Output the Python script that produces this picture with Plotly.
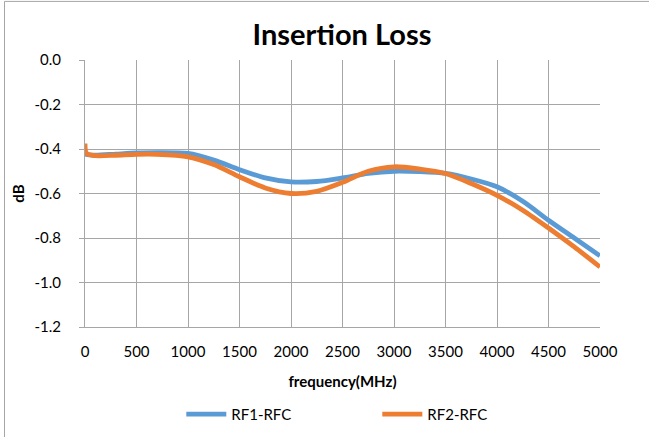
import plotly.graph_objects as go

freq = [0, 15, 100, 300, 500, 700, 1000, 1250, 1500, 1750, 2000, 2250, 2500, 2750, 3000, 3250, 3500, 3750, 4000, 4250, 4500, 4750, 5000]
rf1 = [-0.42, -0.425, -0.428, -0.423, -0.418, -0.416, -0.42, -0.45, -0.493, -0.53, -0.548, -0.546, -0.53, -0.51, -0.50, -0.502, -0.51, -0.535, -0.57, -0.635, -0.72, -0.80, -0.88]
rf2 = [-0.375, -0.42, -0.43, -0.428, -0.424, -0.424, -0.435, -0.47, -0.525, -0.575, -0.60, -0.59, -0.55, -0.50, -0.48, -0.49, -0.51, -0.555, -0.608, -0.675, -0.755, -0.84, -0.93]

x_ticks = [0, 500, 1000, 1500, 2000, 2500, 3000, 3500, 4000, 4500, 5000]
y_ticks = [0.0, -0.2, -0.4, -0.6, -0.8, -1.0, -1.2]
y_labels = ["0.0", "-0.2", "-0.4", "-0.6", "-0.8", "-1.0", "-1.2"]

FONT = "Lato, Carlito, Calibri, sans-serif"

fig = go.Figure()
fig.add_trace(go.Scatter(x=freq, y=rf1, mode="lines", name="RF1-RFC",
                         line=dict(color="#5B9BD5", width=4.8, shape="spline", smoothing=0.8)))
fig.add_trace(go.Scatter(x=freq, y=rf2, mode="lines", name="RF2-RFC",
                         line=dict(color="#ED7D31", width=4.8, shape="spline", smoothing=0.8)))

border = dict(color="#A6A6A6", width=1)
fig.update_layout(
    width=649, height=437,
    margin=dict(l=85, r=49, t=60, b=110, autoexpand=False),
    paper_bgcolor="white", plot_bgcolor="white",
    font=dict(family=FONT, color="#000000", size=15),
    title=dict(text="<b>Insertion Loss</b>", x=0.527, xanchor="center", y=0.92, yanchor="middle",
               font=dict(family=FONT, size=29, color="#000000")),
    showlegend=True,
    legend=dict(orientation="h", x=0.187, xanchor="left", y=-0.327, yanchor="middle",
                font=dict(family=FONT, size=15, color="#000000"),
                entrywidth=141, itemwidth=40),
    xaxis=dict(range=[0, 5000], tickvals=x_ticks, showgrid=True, gridcolor="#A6A6A6", gridwidth=1,
               showline=True, linecolor="#A6A6A6", linewidth=1, zeroline=False, ticks="",
               tickfont=dict(size=15), ticklabelstandoff=11,
               title=dict(text="<b>frequency(MHz)</b>", font=dict(size=15), standoff=17)),
    yaxis=dict(range=[-1.2, 0], tickvals=y_ticks, ticktext=y_labels, showgrid=True, gridcolor="#A6A6A6",
               gridwidth=1, showline=True, linecolor="#A6A6A6", linewidth=1, zeroline=False,
               ticks="outside", ticklen=5, tickcolor="#A6A6A6", tickfont=dict(size=15),
               ticklabelstandoff=15,
               title=dict(text="<b>dB</b>", font=dict(size=15), standoff=6)),
    shapes=[
        dict(type="line", xref="paper", yref="paper", x0=-0.1563, x1=-0.1563, y0=-0.45, y1=1.2194, line=border),
        dict(type="line", xref="paper", yref="paper", x0=-0.1563, x1=1.2, y0=1.2194, y1=1.2194, line=border),
    ],
)

fig.write_html("out.html", config={"displayModeBar": False},
               post_script="document.body.style.margin='0';document.body.style.overflow='hidden';")
